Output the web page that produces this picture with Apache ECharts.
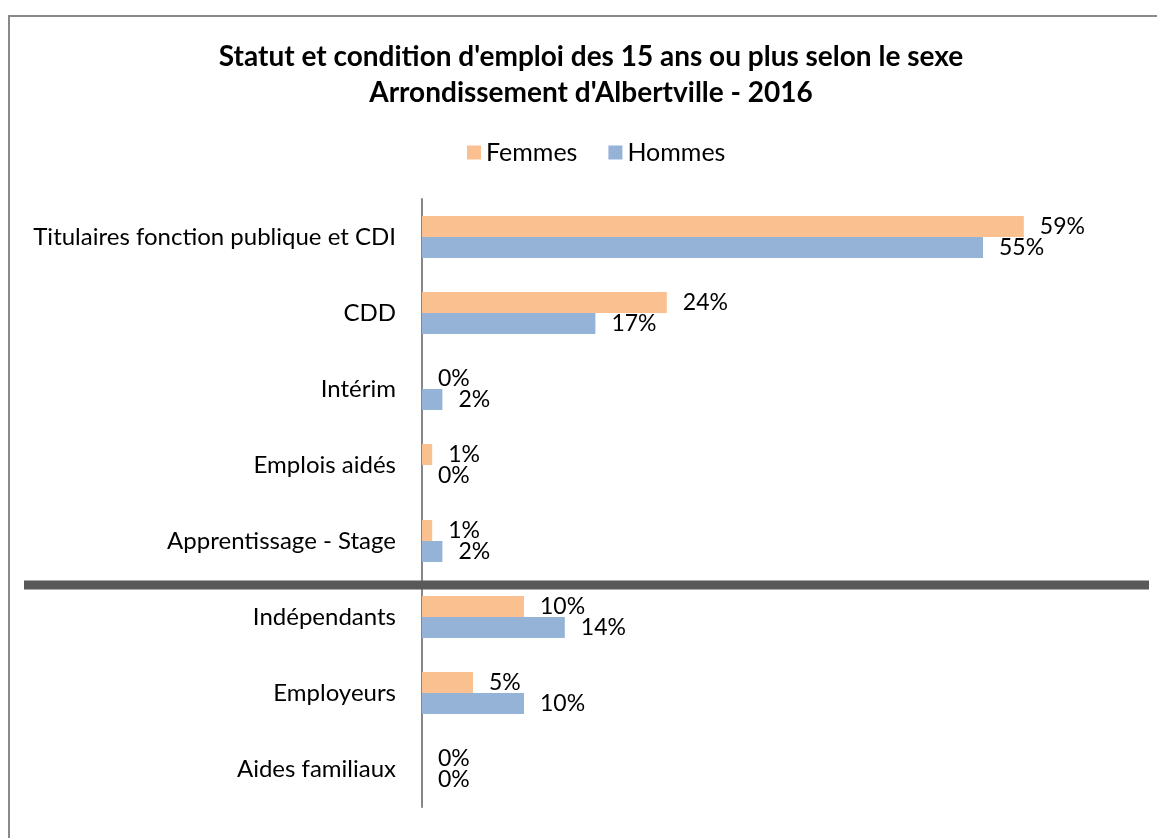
<!DOCTYPE html>
<html>
<head>
<meta charset="utf-8">
<script src="https://cdn.jsdelivr.net/npm/echarts@6/dist/echarts.min.js"></script>
<style>
html,body{margin:0;padding:0;background:#fff;}
#chart{width:1157px;height:838px;}
</style>
</head>
<body>
<div id="chart"></div>
<script>
const categories = ["Titulaires fonction publique et CDI", "CDD", "Intérim", "Emplois aidés", "Apprentissage - Stage", "Indépendants", "Employeurs", "Aides familiaux"];
const femmes = [59, 24, 0, 1, 1, 10, 5, 0];
const hommes = [55, 17, 2, 0, 2, 14, 10, 0];
const seriesNames = ["Femmes", "Hommes"];
const titleLines = ["Statut et condition d'emploi des 15 ans ou plus selon le sexe", "Arrondissement d'Albertville - 2016"];
const separatorAfter = "Apprentissage - Stage";

const FONT = "Lato, 'Open Sans', sans-serif";
const chart = echarts.init(document.getElementById('chart'));
const labelCfg = {show: true, position: 'right', distance: 16, formatter: '{c}%', color: '#000', fontSize: 23, fontFamily: FONT};
chart.setOption({
  animation: false,
  backgroundColor: '#fff',
  title: {
    text: titleLines.join('\n'),
    left: 586, top: 34, textAlign: 'center',
    textStyle: {fontSize: 28, fontWeight: 'bold', color: '#000', fontFamily: FONT, lineHeight: 36}
  },
  legend: {
    data: seriesNames, top: 135, left: 462, itemWidth: 14, itemHeight: 14, itemGap: 31,
    icon: 'rect',
    textStyle: {fontSize: 25, color: '#000', fontFamily: FONT}
  },
  grid: {left: 422, right: 21, top: 199, bottom: 31, containLabel: false},
  xAxis: {type: 'value', min: 0, max: 70, show: false},
  yAxis: {
    type: 'category', data: categories, inverse: true,
    axisLine: {show: true, lineStyle: {color: '#868686', width: 2}},
    axisTick: {show: false},
    axisLabel: {fontSize: 24, color: '#000', fontFamily: FONT, margin: 26}
  },
  series: [
    {name: seriesNames[0], type: 'bar', data: femmes, barWidth: 21, barGap: '0%', itemStyle: {color: '#FAC090'}, label: labelCfg},
    {name: seriesNames[1], type: 'bar', data: hommes, barWidth: 21, barGap: '0%', itemStyle: {color: '#95B3D7'}, label: labelCfg}
  ]
});
const idx = categories.indexOf(separatorAfter);
const y1 = chart.convertToPixel({yAxisIndex: 0}, categories[idx]);
const y2 = chart.convertToPixel({yAxisIndex: 0}, categories[idx + 1]);
const ySep = (y1 + y2) / 2 + 6;
chart.setOption({
  graphic: [
    {type: 'rect', shape: {x: 9, y: 16, width: 1200, height: 900}, style: {fill: 'none', stroke: '#898989', lineWidth: 2}, z: 100},
    {type: 'line', shape: {x1: 24, y1: ySep, x2: 1149, y2: ySep}, style: {stroke: '#595959', lineWidth: 9}, z: 100}
  ]
});
</script>
</body>
</html>
